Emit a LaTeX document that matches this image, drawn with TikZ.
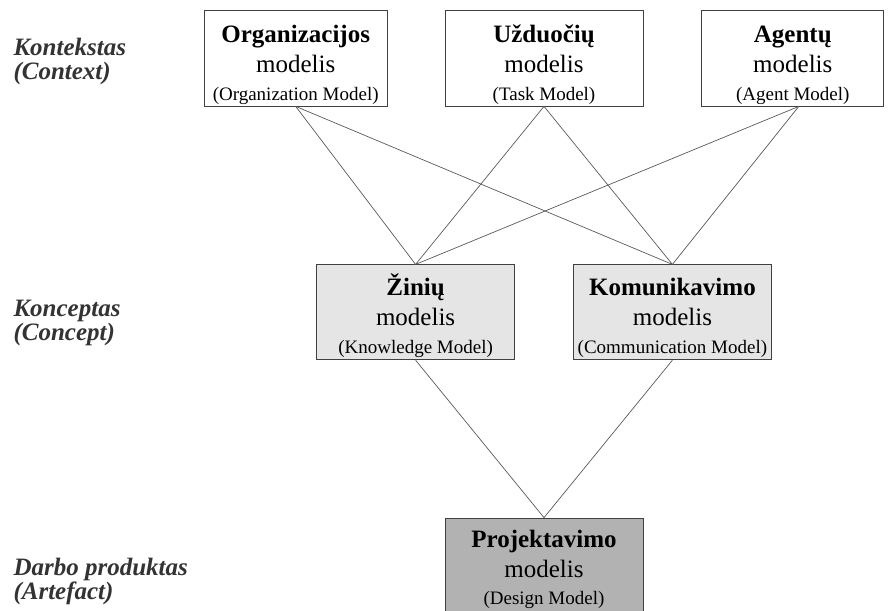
\documentclass[tikz,border=0pt]{standalone}
\usepackage{fontspec}
\setmainfont{Liberation Serif}
\usetikzlibrary{positioning}
\tikzset{model node/.style={rectangle,draw=black!75,line width=0.8pt,align=center,minimum width=198pt,minimum height=96pt,inner sep=0pt,text height=90pt,text depth=6pt,font=\fontsize{25}{30}\selectfont},
context node/.style={model node,fill=white},
concept node/.style={model node,fill=black!10,minimum height=95pt,text height=89pt},
design node/.style={model node,fill=black!30,text height=86pt,text depth=10pt},
level label/.style={anchor=west,align=left,text=black!80,font=\fontsize{25}{24}\selectfont\bfseries\itshape},
}
\newcommand{\engname}[1]{{\fontsize{19}{28}\selectfont(#1)}}

\begin{document}
\begin{tikzpicture}[x=1pt,y=1pt,node distance=57pt]
	\useasboundingbox (0,0) rectangle (888,-610);
	\node[context node] (task) at (544,-58) {\textbf{Užduočių}\\modelis\\[-2pt]\engname{Task Model}};
	\node[context node,minimum width=183pt] (org)[left = of task] {\textbf{Organizacijos}\\modelis\\[-2pt]\engname{Organization Model}};
	\node[context node,minimum width=182pt] (agent)[right = 58pt of task] {\textbf{Agentų}\\modelis\\[-2pt]\engname{Agent Model}};
	\node[concept node] (know)[below left = 158pt and 29pt of task.south] {\textbf{Žinių}\\modelis\\[-2pt]\engname{Knowledge Model}};
	\node[concept node] (comm)[below right = 158pt and 29pt of task.south] {\textbf{Komunikavimo}\\modelis\\[-2pt]\engname{Communication Model}};
	\node[design node] (design) at (544,-566) {\textbf{Projektavimo}\\modelis\\[-3pt]\engname{Design Model}};
	
	% levels
	\node[level label] (context) at (10,-61) {Kontekstas\\(Context)};
	\node[level label] (concept) at (10,-323) {Konceptas\\(Concept)};
	\node[level label] (artefact) at (10,-581) {Darbo produktas\\(Artefact)};
	
	\path[draw,black!65,line width=0.7pt]
	(org.south) edge (know.north)
	(org.south) edge (comm.north)
	(task.south) edge (know.north)
	(task.south) edge (comm.north)
	([xshift=6pt]agent.south) edge (know.north)
	([xshift=6pt]agent.south) edge (comm.north)
	(know.south) edge (design.north)
	(comm.south) edge (design.north);
\end{tikzpicture}
\end{document}
